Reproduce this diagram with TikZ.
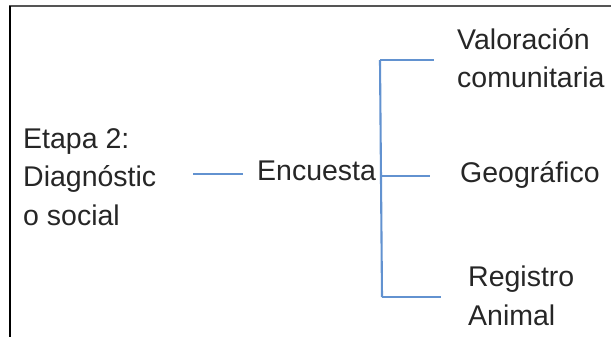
\documentclass[tikz,border=0pt]{standalone}
\usepackage{fontspec}
\setmainfont{Liberation Sans}
\usepackage{tikz}
\usetikzlibrary{calc,positioning}

\definecolor{linkblue}{RGB}{98,146,208}
\definecolor{framegrey}{RGB}{85,85,85}
\definecolor{inkgrey}{RGB}{38,38,38}

\begin{document}
\begin{tikzpicture}[
			x=1pt,y=-1pt,
			txt/.style={
				inner sep=0,
				anchor=base west,
				align=left,
				text=inkgrey,
				font=\fontsize{28.5}{38.5}\selectfont,
			},
			branch/.style={
				draw=linkblue,
				line width=2.1pt,
			}
		]
		\useasboundingbox (0,0) rectangle (611,337);
		\draw[framegrey,line width=2pt] (9,6.5) -- (611,6.5);
		\draw[black,line width=1.8pt] (10,6.5) -- (10,337);

		% base = last line
		\node[txt] (st) at (23,225) {Etapa 2:\\Diagnóstic\\o social};
		\node[txt] (enc) at (257,180) {Encuesta};

		\node[txt] (val) at (457,88) {Valoración\\comunitaria};
		\node[txt] (geo) at (460,182) {Geográfico};
		\node[txt] (reg) at (468,325) {Registro\\Animal};

		\coordinate (d0) at (193,174);
		\coordinate (sTop) at (380,60);
		\coordinate (sMid) at (381,176);
		\coordinate (sBot) at (382,297);

		\draw[branch,shorten >=14pt] (d0) -- (d0 -| enc.west);

		\draw[branch] (sTop) -- (sBot);
		\draw[branch,shorten >=23pt] (sTop) -- (sTop -| val.west);
		\draw[branch,shorten >=30pt] (sMid) -- (sMid -| geo.west);
		\draw[branch,shorten >=27pt] (sBot) -- (sBot -| reg.west);

	\end{tikzpicture}
\end{document}
